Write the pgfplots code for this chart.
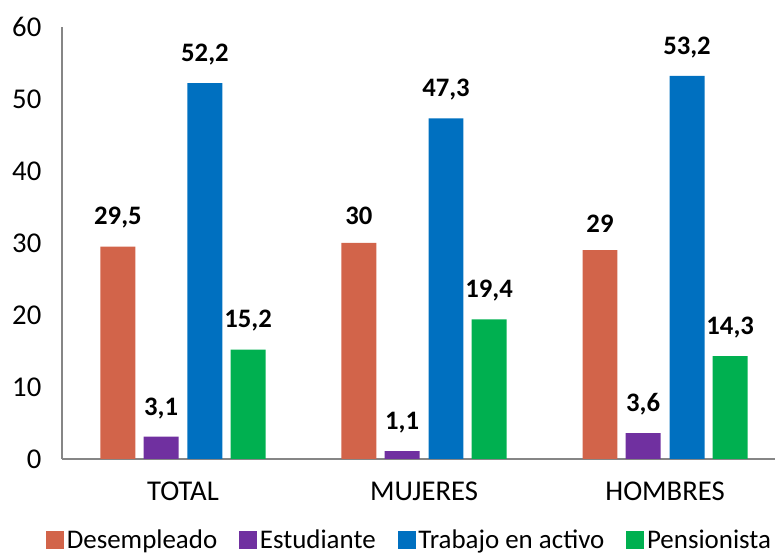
\documentclass[border=0pt]{standalone}
\usepackage{pgfplots}
\pgfplotsset{compat=1.18}
\usepackage{fontspec}
\setmainfont{Carlito}
\definecolor{cDes}{HTML}{D2644A}
\definecolor{cEst}{HTML}{7030A0}
\definecolor{cTra}{HTML}{0070C0}
\definecolor{cPen}{HTML}{00B050}
\definecolor{axgray}{HTML}{868686}
\begin{document}
\begin{tikzpicture}
\begin{axis}[
  at={(46.5pt,72pt)}, anchor=south west,
  scale only axis,
  width=534.75pt, height=324pt,
  xmin=-0.502, xmax=2.456,
  ymin=0, ymax=60,
  ytick={0,10,...,60},
  xtick={0,1,2},
  xticklabels={TOTAL,MUJERES,HOMBRES},
  axis lines*=left,
  axis line style={axgray, line width=1.3pt},
  major tick length=0pt,
  every axis plot/.append style={ybar, bar width=0.145, bar shift=0pt, draw=none},
  ticklabel style={font=\fontsize{21.5}{23}\selectfont},
  yticklabel style={xshift=-12pt},
  xticklabel style={yshift=-14pt},
  /pgf/number format/assume math mode=true,
  /pgf/number format/use comma,
  nodes near coords,
  nodes near coords style={font=\bfseries\fontsize{20}{22}\selectfont, black, yshift=10pt},
  legend columns=4,
  legend style={draw=none, at={(0.488,-0.188)}, anchor=center,
    font=\fontsize{20.2}{22}\selectfont,
    nodes={inner xsep=2pt},
    /tikz/every odd column/.append style={column sep=0pt},
    /tikz/every even column/.append style={column sep=14.5pt}},
  legend image code/.code={\fill[#1] (0pt,-6.8pt) rectangle (13.5pt,6.7pt);},
  clip=false,
]
\addplot[fill=cDes] coordinates {(-0.27,29.5) (0.73,30) (1.73,29)};
\addplot[fill=cEst] coordinates {(-0.091,3.1) (0.909,1.1) (1.909,3.6)};
\addplot[fill=cTra] coordinates {(0.091,52.2) (1.091,47.3) (2.091,53.2)};
\addplot[fill=cPen] coordinates {(0.27,15.2) (1.27,19.4) (2.27,14.3)};
\legend{Desempleado,Estudiante,Trabajo en activo,Pensionista}
\end{axis}
\pgfresetboundingbox
\path[use as bounding box] (0pt,0pt) rectangle (581.25pt,416.25pt);
\end{tikzpicture}
\end{document}
